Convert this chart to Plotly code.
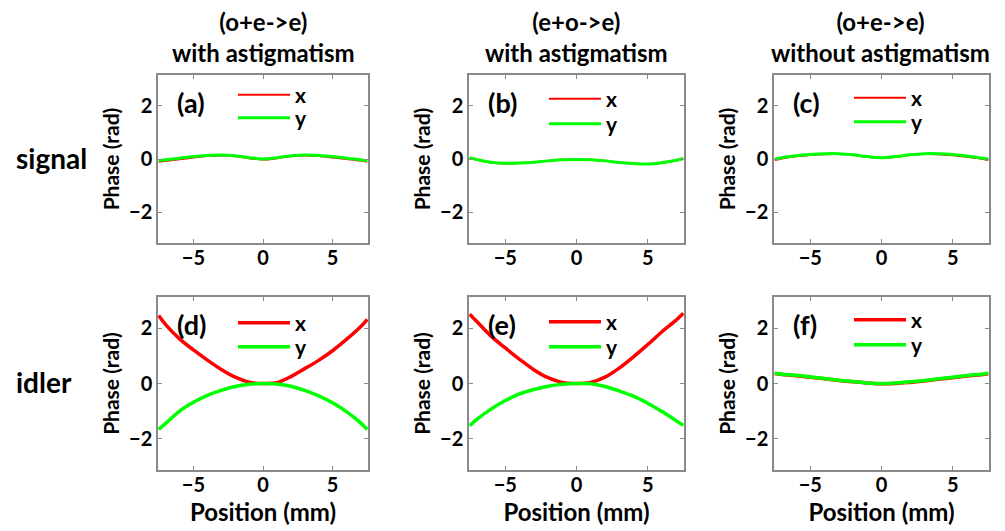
import plotly.graph_objects as go

# ---------------- data ----------------
pos = [-7.5, -7, -6, -5, -4, -3, -2, -1, 0, 1, 2, 3, 4, 5, 6, 7, 7.5]

# signal row
a_x = [-0.10, -0.07, -0.01, 0.06, 0.11, 0.13, 0.10, 0.03, -0.02, 0.03, 0.10, 0.13, 0.11, 0.06, 0.00, -0.06, -0.10]
a_y = [-0.06, -0.03, 0.03, 0.09, 0.13, 0.15, 0.12, 0.05, 0.00, 0.05, 0.12, 0.15, 0.13, 0.09, 0.03, -0.03, -0.07]
b_x = [0.04, -0.03, -0.13, -0.17, -0.15, -0.12, -0.07, -0.03, -0.02, -0.03, -0.07, -0.13, -0.17, -0.19, -0.14, -0.06, 0.01]
b_y = [0.05, -0.02, -0.12, -0.16, -0.15, -0.12, -0.07, -0.03, -0.02, -0.03, -0.07, -0.13, -0.17, -0.19, -0.14, -0.05, 0.02]
c_x = [-0.04, 0.02, 0.10, 0.15, 0.18, 0.19, 0.15, 0.08, 0.04, 0.08, 0.15, 0.19, 0.18, 0.14, 0.08, 0.01, -0.04]
c_y = [0.00, 0.05, 0.12, 0.17, 0.20, 0.20, 0.16, 0.09, 0.05, 0.09, 0.16, 0.20, 0.20, 0.17, 0.11, 0.04, 0.00]

# idler row
d_x = [2.47, 2.14, 1.62, 1.22, 0.85, 0.51, 0.23, 0.05, 0.00, 0.03, 0.25, 0.54, 0.84, 1.19, 1.60, 2.05, 2.33]
d_y = [-1.67, -1.45, -1.00, -0.68, -0.43, -0.25, -0.11, -0.03, 0.00, -0.02, -0.10, -0.25, -0.45, -0.70, -1.02, -1.42, -1.67]
e_x = [2.52, 2.25, 1.72, 1.29, 0.88, 0.50, 0.21, 0.04, 0.00, 0.04, 0.23, 0.56, 0.97, 1.41, 1.88, 2.30, 2.55]
e_y = [-1.53, -1.30, -0.93, -0.62, -0.38, -0.22, -0.10, -0.03, 0.00, -0.01, -0.11, -0.27, -0.46, -0.72, -1.02, -1.35, -1.52]
f_x = [0.36, 0.33, 0.28, 0.23, 0.17, 0.11, 0.06, 0.02, -0.01, 0.00, 0.04, 0.09, 0.15, 0.21, 0.27, 0.32, 0.35]
f_y = [0.37, 0.34, 0.30, 0.24, 0.18, 0.12, 0.07, 0.02, 0.00, 0.02, 0.06, 0.11, 0.17, 0.23, 0.29, 0.34, 0.37]

panel_labels = ["(a)", "(b)", "(c)", "(d)", "(e)", "(f)"]
col_titles = ["(o+e->e)<br>with astigmatism", "(e+o->e)<br>with astigmatism", "(o+e->e)<br>without astigmatism"]
row_labels = ["signal", "idler"]
series_names = ["x", "y"]
x_ticks = [-5, 0, 5]
y_ticks = [-2, 0, 2]

panels = [(a_x, a_y), (b_x, b_y), (c_x, c_y), (d_x, d_y), (e_x, e_y), (f_x, f_y)]

# ---------------- layout geometry (pixels) ----------------
W, H = 1005, 531
col_px = [(158, 368), (469, 684), (774, 989)]
row_px = [(75, 243), (297, 470)]
legend_dy = [(20, 43), (24, 49), (23, 47), (26, 50), (25, 50), (23, 48)]

FONT = "Lato"
RED = "#ff0000"
GREEN = "#00ff00"
FRAME = "#8a8a8a"

fig = go.Figure()
layout = dict(
    width=W, height=H,
    margin=dict(l=0, r=0, t=0, b=0),
    paper_bgcolor="white", plot_bgcolor="white",
    font=dict(family=FONT, size=20, color="black", weight="bold"),
    showlegend=True,
    annotations=[],
)

for i, (sx, sy) in enumerate(panels):
    r, c = divmod(i, 3)
    n = i + 1
    xa = "x" if n == 1 else f"x{n}"
    ya = "y" if n == 1 else f"y{n}"
    wr = 2 if r == 0 else 3.5
    wg = 3 if r == 0 else 3.5
    x0, x1 = col_px[c]
    y0, y1 = row_px[r]
    for k, (vals, col, w) in enumerate([(sx, RED, wr), (sy, GREEN, wg)]):
        leg_id = 2 * i + k + 1
        leg = "legend" if leg_id == 1 else f"legend{leg_id}"
        fig.add_trace(go.Scatter(x=pos, y=vals, mode="lines", name=series_names[k],
                                 line=dict(color=col, width=w, shape="spline", smoothing=1.0),
                                 xaxis=xa, yaxis=ya, legend=leg, hoverinfo="skip"))
        layout[leg] = dict(
            x=(x0 + 75) / W, y=1 - (y0 + legend_dy[i][k]) / H,
            xanchor="left", yanchor="middle",
            bgcolor="rgba(0,0,0,0)", borderwidth=0, itemwidth=52,
            font=dict(size=21, family=FONT, weight="bold"),
        )
    xkey = "xaxis" if n == 1 else f"xaxis{n}"
    ykey = "yaxis" if n == 1 else f"yaxis{n}"
    layout[xkey] = dict(
        domain=[x0 / W, x1 / W], anchor=ya, range=[-7.55, 7.55],
        tickvals=x_ticks, ticks="inside", ticklen=4, tickcolor=FRAME,
        showline=True, linecolor=FRAME, linewidth=1.5, mirror="ticks",
        showgrid=False, zeroline=False, ticklabelstandoff=-4,
        tickfont=dict(size=20, family=FONT, weight="bold"),
        title=dict(text="Position (mm)" if r == 1 else "", font=dict(size=24, family=FONT, weight="bold"), standoff=9),
    )
    layout[ykey] = dict(
        domain=[1 - y1 / H, 1 - y0 / H], anchor=xa, range=[-3.1416, 3.1416],
        tickvals=y_ticks, ticks="inside", ticklen=4, tickcolor=FRAME,
        showline=True, linecolor=FRAME, linewidth=1.5, mirror="ticks",
        showgrid=False, zeroline=False,
        tickfont=dict(size=20, family=FONT, weight="bold"),
        title=dict(text="Phase (rad)", font=dict(size=21, family=FONT, weight="bold"), standoff=4),
    )
    layout["annotations"].append(dict(
        text=panel_labels[i], xref="paper", yref="paper",
        x=(x0 + 17) / W, y=1 - (y0 + 27) / H, xanchor="left", yanchor="middle",
        showarrow=False, font=dict(size=27, family=FONT, weight="bold"),
    ))

for c, t in enumerate(col_titles):
    layout["annotations"].append(dict(
        text=t, xref="paper", yref="paper", x=[263, 576, 880][c] / W, y=1 - 37 / H,
        xanchor="center", yanchor="middle", showarrow=False,
        font=dict(size=24, family=FONT, weight="bold"),
    ))

for r, t in enumerate(row_labels):
    yc = [158, 382][r]
    layout["annotations"].append(dict(
        text=t, xref="paper", yref="paper", x=[51, 44][r] / W, y=1 - yc / H,
        xanchor="center", yanchor="middle", showarrow=False,
        font=dict(size=28, family=FONT, weight="bold"),
    ))

fig.update_layout(**layout)
fig.write_html("out.html", config={"displayModeBar": False},
               post_script="document.body.style.margin='0';")
